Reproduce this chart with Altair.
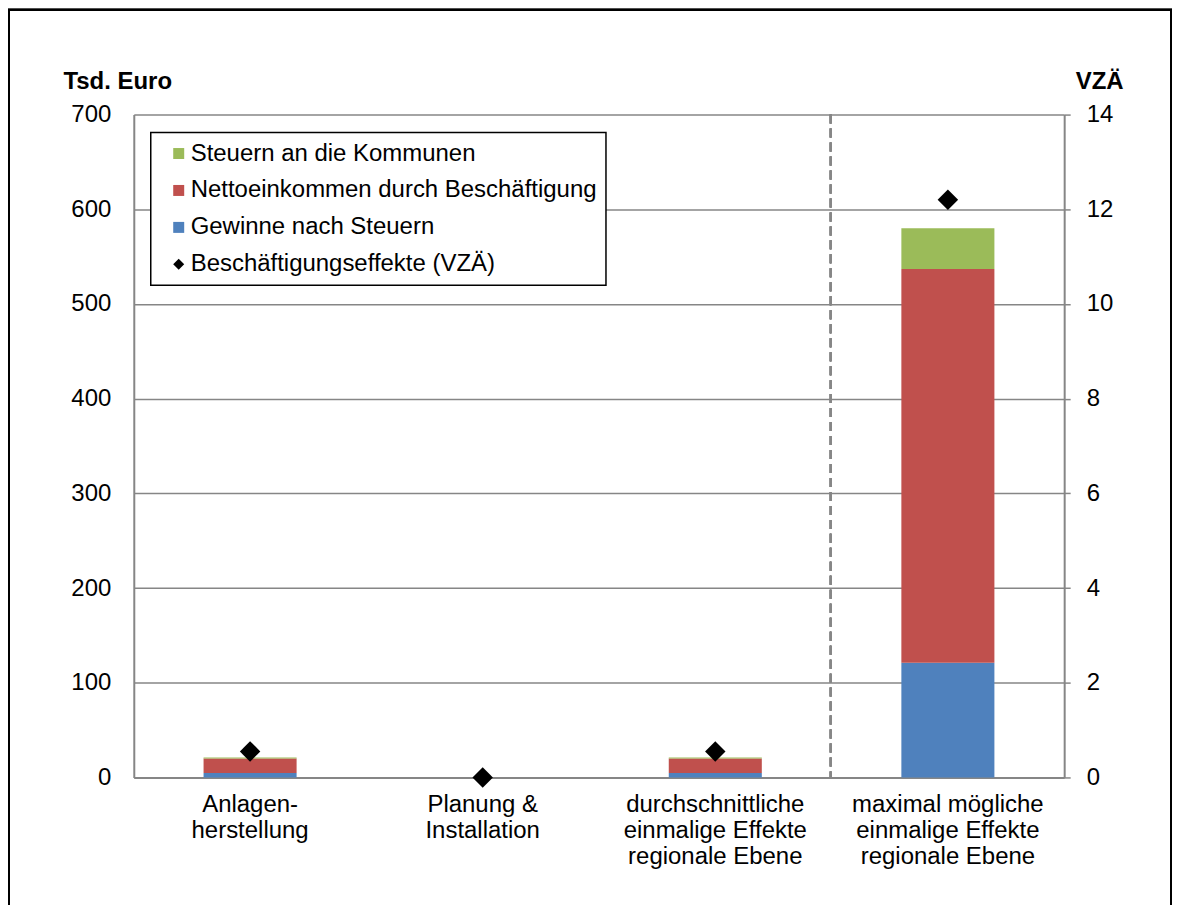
import altair as alt
import pandas as pd

categories = [
    "Anlagen-\nherstellung",
    "Planung &\nInstallation",
    "durchschnittliche\neinmalige Effekte\nregionale Ebene",
    "maximal mögliche\neinmalige Effekte\nregionale Ebene",
]
gewinne = [4.6, 0.0, 4.6, 121.0]
netto = [15.4, 0.0, 15.4, 416.0]
steuern = [1.0, 0.0, 1.0, 43.0]
vza = [0.55, 0.0, 0.55, 12.2]

series_names = [
    "Steuern an die Kommunen",
    "Nettoeinkommen durch Beschäftigung",
    "Gewinne nach Steuern",
    "Beschäftigungseffekte (VZÄ)",
]
series_colors = ["#9BBB59", "#C0504D", "#4F81BD", "#000000"]
series_shapes = ["square", "square", "square", "diamond"]

y_left_ticks = [0, 100, 200, 300, 400, 500, 600, 700]
y_right_ticks = [0, 2, 4, 6, 8, 10, 12, 14]

FONT = "Liberation Sans"
FS = 24
GREY = "#868686"

rows = []
for i, c in enumerate(categories):
    rows.append({"cat": c, "series": series_names[2], "value": gewinne[i], "ord": 0})
    rows.append({"cat": c, "series": series_names[1], "value": netto[i], "ord": 1})
    rows.append({"cat": c, "series": series_names[0], "value": steuern[i], "ord": 2})
bars_df = pd.DataFrame(rows)
pts_df = pd.DataFrame({"cat": categories, "vza": vza, "series": series_names[3]})

xscale = alt.Scale(domain=categories, paddingInner=0.6, paddingOuter=0.3)
xaxis = alt.Axis(
    title=None, labelAngle=0, labelExpr="split(datum.label, '\\n')",
    labelFontSize=FS, labelFont=FONT, labelColor="black", labelLineHeight=26,
    labelPadding=15, labelBaseline="top", ticks=False, domainColor=GREY, domainWidth=2,
    labelLimit=400,
)
color_scale = alt.Scale(domain=series_names, range=series_colors)
shape_scale = alt.Scale(domain=series_names, range=series_shapes)
legend = alt.Legend(title=None, orient="none", legendX=17, legendY=18)

bars = alt.Chart(bars_df).mark_bar().encode(
    x=alt.X("cat:N", scale=xscale, axis=xaxis, sort=categories),
    y=alt.Y("value:Q", stack="zero", scale=alt.Scale(domain=[0, 700], nice=False),
            axis=alt.Axis(
                orient="left", values=y_left_ticks, grid=True, gridColor=GREY, gridWidth=1.5,
                tickSize=0, labelPadding=23, labelFontSize=FS, labelFont=FONT, labelColor="black",
                domainColor=GREY, domainWidth=2,
                title="Tsd. Euro", titleAngle=0, titleX=-71, titleY=-26, titleAlign="left",
                titleBaseline="alphabetic", titleFontSize=FS, titleFont=FONT,
                titleFontWeight="bold", titleColor="black",
            )),
    color=alt.Color("series:N", scale=color_scale, legend=legend),
    order=alt.Order("ord:Q"),
)

divider = alt.Chart(bars_df).mark_rule(color=GREY, strokeWidth=1.5, strokeDash=[9, 5]).encode(
    x=alt.value(698), y=alt.value(0), y2=alt.value(664)
)

points = alt.Chart(pts_df).mark_point(filled=True, size=420, opacity=1).encode(
    x=alt.X("cat:N", scale=xscale, axis=xaxis, sort=categories),
    y=alt.Y("vza:Q", scale=alt.Scale(domain=[0, 14], nice=False),
            axis=alt.Axis(
                orient="right", values=y_right_ticks, grid=False, tickSize=6, tickColor=GREY,
                tickWidth=1.5, labelPadding=16, labelFontSize=FS, labelFont=FONT,
                labelColor="black", domainColor=GREY, domainWidth=2,
                title="VZÄ", titleAngle=0, titleX=11, titleY=-26, titleAlign="left",
                titleBaseline="alphabetic", titleFontSize=FS, titleFont=FONT,
                titleFontWeight="bold", titleColor="black",
            )),
    color=alt.Color("series:N", scale=color_scale, legend=legend),
    shape=alt.Shape("series:N", scale=shape_scale, legend=legend),
)

border = alt.Chart(pts_df).mark_rect(filled=False, stroke="black", strokeWidth=2).encode(
    x=alt.value(-125), x2=alt.value(1039), y=alt.value(-105), y2=alt.value(820)
)

chart = alt.layer(bars, divider, points, border).resolve_scale(
    y="independent"
).properties(
    width=932, height=664,
    autosize=alt.AutoSizeParams(type="none"),
    padding={"left": 126, "top": 106, "right": 108, "bottom": 127},
).configure_view(stroke=None).configure_legend(
    strokeColor="black", strokeWidth=1.5, fillColor="white", padding=9,
    labelFontSize=FS, labelFont=FONT, labelColor="black", labelLimit=700,
    symbolSize=121, symbolStrokeWidth=0, rowPadding=13, symbolOffset=7, labelOffset=0,
)

chart.save("out.html", embed_options={"renderer": "svg", "actions": False})
